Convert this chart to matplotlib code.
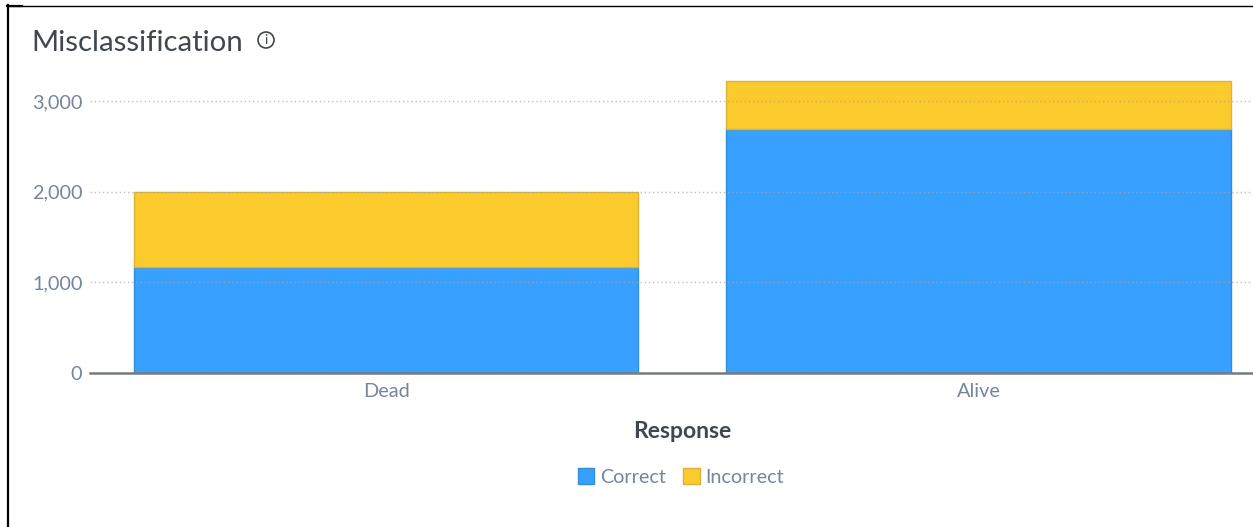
import matplotlib
matplotlib.use('Agg')
import matplotlib.pyplot as plt
from matplotlib.lines import Line2D
from matplotlib.patches import Circle

plt.rcParams['font.family'] = ['Lato', 'DejaVu Sans']

responses = ['Dead', 'Alive']
correct = [1165, 2690]
incorrect = [835, 530]
y_ticks = [0, 1000, 2000, 3000]
y_tick_labels = ['0', '1,000', '2,000', '3,000']

blue = '#38a0ff'
yellow = '#fbca2d'
blue_edge = '#2f8ed8'
yellow_edge = '#dcb23a'
label_color = '#76859a'
dark_text = '#40474f'

W, H = 1253, 527
fig = plt.figure(figsize=(W / 100, H / 100), dpi=100)

# axes box in pixels: left 90, right at the figure edge, baseline at y=373
ax = fig.add_axes([90 / W, (H - 373) / H, (W - 90) / W, (373 - 60) / H])

x = range(len(responses))
ax.bar(x, correct, width=0.852, color=blue, edgecolor=blue_edge, linewidth=1,
       label='Correct', zorder=2)
ax.bar(x, incorrect, width=0.852, bottom=correct, color=yellow, edgecolor=yellow_edge,
       linewidth=1, label='Incorrect', zorder=2)

ax.set_xlim(-0.4996, 1.463)
ax.set_ylim(0, 313 / 0.0907)

ax.set_yticks(y_ticks)
ax.set_yticklabels(y_tick_labels, va='center_baseline')
ax.set_xticks(list(x))
ax.set_xticklabels(responses)
ax.tick_params(axis='both', length=0, labelsize=14.3, labelcolor=label_color)
ax.tick_params(axis='x', pad=7)
ax.tick_params(axis='y', pad=5.5)

ax.yaxis.grid(True, linestyle=(0, (1, 2)), linewidth=1, color='#a5a5a5', alpha=0.7, zorder=3)
ax.set_axisbelow(False)
ax.xaxis.grid(False)

for side in ['top', 'right', 'left']:
    ax.spines[side].set_visible(False)
ax.spines['bottom'].set_color('#777b80')
ax.spines['bottom'].set_linewidth(1.8)
ax.spines['bottom'].set_zorder(4)

# title and info icon
fig.text(31 / W, (H - 43) / H, 'Misclassification', fontsize=21.2, color=dark_text,
         ha='left', va='center')
fig.add_artist(Circle((2.66, (H - 40) / 100), 0.08, transform=fig.dpi_scale_trans,
                      fill=False, edgecolor=dark_text, linewidth=1.2))
fig.text(266 / W, (H - 40) / H, 'i', fontsize=10, color=dark_text, ha='center', va='center')

fig.text(682 / W, (H - 431) / H, 'Response', fontsize=16.5, fontweight='bold',
         color=dark_text, ha='center', va='center')

handles, labels = ax.get_legend_handles_labels()
fig.legend(handles, labels, ncol=2, loc='center', bbox_to_anchor=(681 / W, (H - 477) / H),
           frameon=False, fontsize=14.2, labelcolor=label_color,
           handlelength=0.85, handleheight=0.85, handletextpad=0.3, columnspacing=0.85,
           borderpad=0, borderaxespad=0)

# black frame lines on the left and top edges
fig.add_artist(Line2D([7.5 / W, 7.5 / W], [0, (H - 5) / H], color='black', linewidth=1.6))
fig.add_artist(Line2D([7 / W, 1], [(H - 5.5) / H, (H - 5.5) / H], color='black', linewidth=1))
fig.add_artist(Line2D([7 / W, 22 / W], [(H - 6) / H, (H - 6) / H], color='black', linewidth=1.6))

fig.savefig('out.png', dpi=100)
